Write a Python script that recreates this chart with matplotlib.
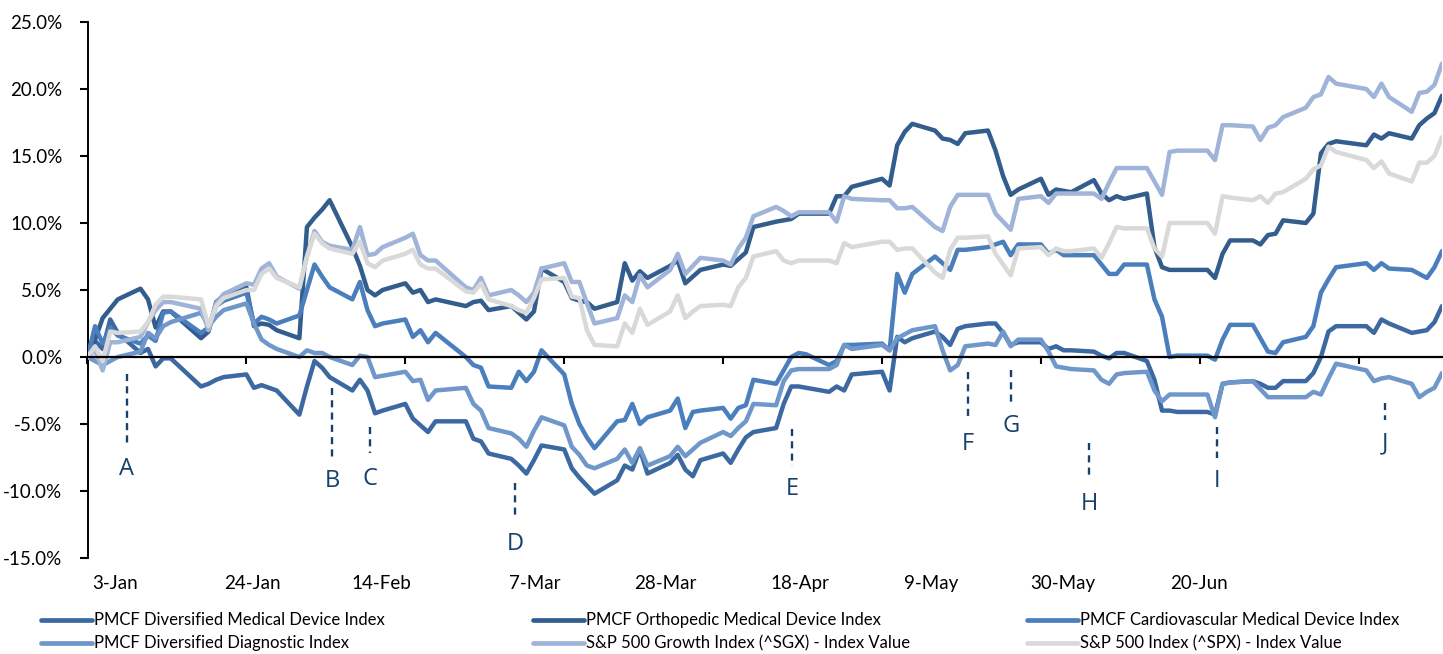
import matplotlib
matplotlib.use("Agg")
import matplotlib.pyplot as plt
import matplotlib.ticker as mticker
from matplotlib.lines import Line2D
import pandas as pd

plt.rcParams["font.family"] = ["Lato", "DejaVu Sans"]

W, H, DPI = 1443, 654, 100

# Trading days, first half of 2022
market_holidays = ["2022-01-17", "2022-02-21", "2022-04-15", "2022-05-30", "2022-06-20"]
trade_dates = pd.bdate_range("2022-01-03", "2022-07-01", freq="C", holidays=market_holidays)

series_names = [
    "PMCF Diversified Medical Device Index",
    "PMCF Orthopedic Medical Device Index",
    "PMCF Cardiovascular Medical Device Index",
    "PMCF Diversified Diagnostic Index",
    "S&P 500 Growth Index (^SGX) - Index Value",
    "S&P 500 Index (^SPX) - Index Value",
]
series_colors = ["#3C69A1", "#335D8D", "#4A7EBC", "#7097C9", "#9FB4D8", "#D9D9D9"]

# Cumulative return since 3-Jan, in percent (one value per trading day)
diversified_med_device = [
    0.0, 1.2, 0.6, 2.8, 1.8, 0.3, 0.6, -0.7, -0.1, -0.1, -2.2, -2.0, -1.7, -1.5,
    -1.3, -2.3, -2.1, -2.3, -2.5, -4.3, -2.2, -0.3, -0.8, -1.5, -2.5, -1.7, -2.5, -4.2, -4.0,
    -3.5, -4.6, -5.1, -5.6, -4.8, -4.8, -6.1, -6.3, -7.2, -7.6, -8.1, -8.7, -7.7, -6.6,
    -6.9, -8.3, -9.0, -9.6, -10.2, -9.2, -8.1, -8.4, -6.9, -8.7, -7.9, -7.3, -8.4, -8.9, -7.7,
    -7.2, -7.9, -6.9, -6.0, -5.6, -5.3, -3.5, -2.2, -2.2, -2.3, -2.6, -2.2, -2.5, -1.3,
    -1.1, -2.5, 1.5, 1.1, 1.4, 1.9, 1.5, 0.9, 2.1, 2.3, 2.5, 2.5, 1.8, 0.9, 1.1,
    1.1, 0.6, 0.8, 0.5, 0.5, 0.4, 0.1, -0.1, 0.3, 0.3, -0.3, -1.7, -4.0, -4.0, -4.1,
    -4.1, -4.3, -2.0, -1.9, -1.8, -2.0, -2.3, -2.3, -1.8, -1.8, -1.2, 0.0, 1.9, 2.3,
    2.3, 1.8, 2.8, 2.5, 1.8, 1.9, 2.0, 2.6, 3.8,
]
orthopedic = [
    0.0, 1.3, 2.9, 3.6, 4.3, 5.1, 4.3, 2.2, 3.4, 3.4, 1.4, 1.9, 4.1, 4.6,
    5.2, 2.3, 2.5, 2.4, 2.0, 1.4, 9.7, 10.4, 11.0, 11.7, 8.2, 6.8, 5.0, 4.6, 5.0,
    5.5, 4.8, 5.0, 4.1, 4.3, 3.8, 4.1, 4.2, 3.5, 3.8, 3.3, 2.8, 3.4, 6.6,
    5.6, 4.4, 4.2, 4.1, 3.6, 4.1, 7.0, 5.7, 6.4, 5.9, 6.8, 7.2, 5.5, 6.0, 6.5,
    6.9, 6.8, 7.3, 7.8, 9.7, 10.1, 10.2, 10.3, 10.7, 10.7, 10.7, 12.0, 12.0, 12.7,
    13.3, 12.8, 15.8, 16.8, 17.4, 16.9, 16.3, 16.2, 15.9, 16.7, 16.9, 15.4, 13.5, 12.1, 12.5,
    13.3, 12.1, 12.5, 12.4, 12.3, 13.2, 12.2, 11.7, 12.0, 11.8, 12.2, 8.2, 6.7, 6.5, 6.5,
    6.5, 5.9, 7.7, 8.7, 8.7, 8.4, 9.1, 9.2, 10.2, 10.0, 10.7, 15.2, 15.9, 16.1,
    15.8, 16.6, 16.3, 16.7, 16.3, 17.3, 17.8, 18.2, 19.5,
]
cardiovascular = [
    0.0, 2.3, 1.0, 2.2, 1.6, 1.0, 1.6, 1.2, 3.3, 3.4, 1.8, 2.2, 3.8, 4.2,
    4.8, 2.5, 3.0, 2.8, 2.5, 3.1, 5.0, 6.9, 6.0, 5.2, 4.3, 5.6, 3.5, 2.3, 2.5,
    2.8, 1.5, 2.0, 1.1, 1.8, 0.0, -0.6, -0.8, -2.2, -2.3, -1.1, -1.8, -1.1, 0.5,
    -1.3, -3.5, -5.0, -6.0, -6.8, -4.8, -4.7, -3.5, -5.0, -4.5, -4.0, -3.1, -5.3, -4.1, -4.0,
    -3.8, -4.6, -3.8, -3.6, -1.7, -2.0, -1.0, 0.0, 0.3, 0.2, -0.6, -0.3, 0.9, 0.9,
    1.0, 0.5, 6.2, 4.8, 6.2, 7.5, 7.0, 6.5, 8.0, 8.0, 8.2, 8.4, 8.6, 7.6, 8.4,
    8.4, 7.7, 8.0, 7.6, 7.6, 7.6, 6.9, 6.2, 6.2, 6.9, 6.9, 4.3, 3.0, 0.0, 0.1,
    0.1, -0.2, 1.3, 2.4, 2.4, 1.4, 0.4, 0.3, 1.1, 1.5, 2.3, 4.8, 5.8, 6.7,
    7.0, 6.5, 7.0, 6.6, 6.5, 6.2, 5.9, 6.7, 7.9,
]
diversified_diagnostic = [
    0.0, -0.3, -0.6, -0.3, 0.0, 0.4, 1.8, 1.4, 2.3, 2.6, 3.3, 2.3, 3.0, 3.5,
    4.0, 2.5, 1.3, 0.9, 0.6, 0.0, 0.5, 0.3, 0.3, 0.0, -0.6, 0.1, 0.0, -1.5, -1.4,
    -1.1, -1.8, -1.7, -3.2, -2.5, -2.3, -3.5, -4.0, -5.3, -5.7, -6.1, -6.7, -5.5, -4.5,
    -5.1, -6.7, -7.3, -8.1, -8.3, -7.6, -6.9, -7.9, -6.8, -8.1, -7.4, -6.7, -7.4, -6.9, -6.4,
    -5.6, -5.9, -5.3, -4.8, -3.5, -3.6, -1.8, -1.0, -0.9, -0.9, -0.9, -0.6, 0.9, 0.6,
    0.9, 0.5, 1.4, 1.7, 2.0, 2.3, 0.5, -1.0, -0.6, 0.8, 1.0, 0.9, 1.9, 0.8, 1.3,
    1.3, 0.4, -0.7, -0.8, -0.9, -1.0, -1.7, -2.0, -1.3, -1.2, -1.1, -2.5, -3.3, -2.8, -2.8,
    -2.8, -4.5, -2.0, -1.9, -1.8, -2.4, -3.0, -3.0, -3.0, -3.0, -2.6, -2.8, -1.6, -0.5,
    -1.0, -1.8, -1.6, -1.5, -2.0, -3.0, -2.6, -2.3, -1.2,
]
sp500_growth = [
    0.0, 0.5, -1.0, 1.1, 1.1, 1.5, 2.6, 3.5, 4.1, 4.1, 3.6, 2.0, 4.0, 4.7,
    5.5, 5.4, 6.6, 7.0, 6.0, 5.1, 7.5, 9.4, 8.6, 8.3, 8.0, 9.7, 7.6, 7.7, 8.2,
    8.9, 9.2, 7.6, 7.2, 7.2, 5.2, 5.0, 5.9, 4.6, 5.0, 4.6, 4.1, 4.8, 6.6,
    7.0, 5.6, 5.6, 4.0, 2.5, 2.9, 4.6, 4.1, 6.1, 5.2, 6.5, 7.7, 6.2, 6.8, 7.4,
    7.2, 6.9, 8.1, 8.9, 10.5, 11.2, 10.9, 10.5, 10.8, 10.8, 10.8, 10.1, 12.0, 11.8,
    11.7, 11.7, 11.1, 11.1, 11.2, 9.7, 9.4, 11.2, 12.1, 12.1, 12.1, 10.7, 10.1, 9.5, 11.8,
    12.0, 11.5, 12.2, 12.2, 12.2, 12.2, 11.8, 13.0, 14.1, 14.1, 14.1, 13.1, 12.1, 15.3, 15.4,
    15.4, 14.7, 17.3, 17.3, 17.2, 16.2, 17.1, 17.3, 17.9, 18.6, 19.4, 19.6, 20.9, 20.4,
    20.0, 19.4, 20.4, 19.4, 18.3, 19.7, 19.8, 20.3, 21.9,
]
sp500 = [
    0.0, 0.8, -0.3, 1.9, 1.8, 1.9, 2.6, 3.9, 4.5, 4.5, 4.3, 2.3, 3.8, 4.4,
    5.0, 5.0, 6.2, 6.6, 5.9, 5.2, 7.5, 9.2, 8.5, 8.1, 7.7, 8.6, 7.0, 6.7, 7.2,
    7.7, 8.0, 6.9, 6.6, 6.6, 4.9, 4.8, 5.5, 4.3, 3.8, 3.5, 3.3, 4.4, 5.8,
    5.9, 4.5, 4.4, 2.0, 0.9, 0.8, 2.5, 1.8, 3.6, 2.4, 3.4, 4.6, 2.9, 3.4, 3.8,
    3.9, 3.8, 5.2, 5.9, 7.5, 7.9, 7.2, 7.0, 7.2, 7.2, 7.2, 7.0, 8.5, 8.2,
    8.6, 8.6, 8.0, 8.1, 8.1, 6.3, 5.9, 8.0, 8.9, 8.9, 9.0, 7.7, 6.9, 6.1, 8.1,
    8.2, 7.6, 8.1, 7.9, 7.9, 8.1, 7.4, 8.5, 9.7, 9.6, 9.6, 8.1, 7.5, 10.0, 10.0,
    10.0, 9.2, 12.0, 11.9, 11.7, 12.0, 11.5, 12.2, 12.3, 13.3, 14.0, 14.3, 15.7, 15.3,
    14.7, 14.1, 14.6, 13.7, 13.1, 14.5, 14.5, 15.0, 16.4,
]
series_values = [diversified_med_device, orthopedic, cardiovascular,
                 diversified_diagnostic, sp500_growth, sp500]

# Axis ticks every three weeks; date labels run along the bottom edge
tick_dates = pd.date_range("2022-01-03", periods=9, freq="21D")
tick_labels = ["3-Jan", "24-Jan", "14-Feb", "7-Mar", "28-Mar", "18-Apr", "9-May", "30-May", "20-Jun"]
label_centers_px = [115, 252, 381, 535, 665, 800, 931, 1063, 1199]
y_ticks = [-15, -10, -5, 0, 5, 10, 15, 20, 25]

# Event markers: label, days after 3-Jan, dashed span (top, bottom) and label baseline, in percent
event_labels = ["A", "B", "C", "D", "E", "F", "G", "H", "I", "J"]
event_days = [5.2, 32.3, 37.3, 56.5, 93.1, 116.4, 122.0, 132.4, 149.3, 171.5]
event_top = [-1.3, -2.3, -5.2, -9.4, -5.4, -1.1, -1.0, -6.4, -5.2, -3.4]
event_bottom = [-6.6, -7.5, -7.2, -11.9, -8.1, -4.6, -3.4, -9.0, -7.5, -4.7]
event_baseline = [-8.8, -9.7, -9.55, -14.4, -10.3, -6.94, -5.6, -11.42, -9.7, -6.9]
event_color = "#17406D"

AX_LEFT, AX_RIGHT, AX_TOP, AX_BOTTOM = 87.5, 1442, 22, 558

fig = plt.figure(figsize=(W / DPI, H / DPI), dpi=DPI)
ax = fig.add_axes([AX_LEFT / W, 1 - AX_BOTTOM / H, (AX_RIGHT - AX_LEFT) / W,
                   (AX_BOTTOM - AX_TOP) / H])

for vals, color in zip(series_values, series_colors):
    ax.plot(trade_dates, vals, color=color, lw=3.2, solid_joinstyle="round",
            solid_capstyle="round", zorder=3)

ax.set_xlim(trade_dates[0], trade_dates[-1])
ax.set_ylim(-15, 25)
ax.set_yticks(y_ticks)
ax.yaxis.set_major_formatter(mticker.FuncFormatter(lambda v, p: f"{v:.1f}%"))
ax.set_xticks(tick_dates)
ax.tick_params(axis="x", direction="out", length=5, width=1.5, color="black",
               labelbottom=False)
ax.tick_params(axis="y", direction="out", length=6, width=1.5, color="black",
               labelsize=13.5, pad=12)

for side in ("top", "right"):
    ax.spines[side].set_visible(False)
ax.spines["bottom"].set_position(("data", 0))
ax.spines["bottom"].set_linewidth(1.6)
ax.spines["bottom"].set_zorder(4)
ax.spines["left"].set_linewidth(1.4)
ax.patch.set_visible(False)

ax_w = AX_RIGHT - AX_LEFT
for lab, cx in zip(tick_labels, label_centers_px):
    ax.text((cx - AX_LEFT) / ax_w, -0.047, lab, transform=ax.transAxes, ha="center",
            va="center", fontsize=13.5)

for lab, day, top, bot, base in zip(event_labels, event_days, event_top,
                                     event_bottom, event_baseline):
    x = trade_dates[0] + pd.Timedelta(days=day)
    ax.plot([x, x], [top, bot], color=event_color, lw=1.7, dashes=(3.0, 2.2), zorder=5)
    ax.text(x, base, lab, ha="center", va="baseline", fontsize=17,
            family=["Open Sans", "DejaVu Sans"], color=event_color, zorder=5)

# Legend: three columns of two rows
col_x = [41, 533, 1027]
row_y = [620, 643]
handle_len = 51
for i, (name, color) in enumerate(zip(series_names, series_colors)):
    col, row = i % 3, i // 3
    x0 = col_x[col]
    y = 1 - row_y[row] / H
    fig.add_artist(Line2D([x0 / W, (x0 + handle_len) / W], [y, y], color=color,
                          lw=3.4, solid_capstyle="round", transform=fig.transFigure))
    fig.text((x0 + handle_len + 2) / W, y, name, ha="left", va="center", fontsize=12)

fig.savefig("out.png", dpi=DPI)
